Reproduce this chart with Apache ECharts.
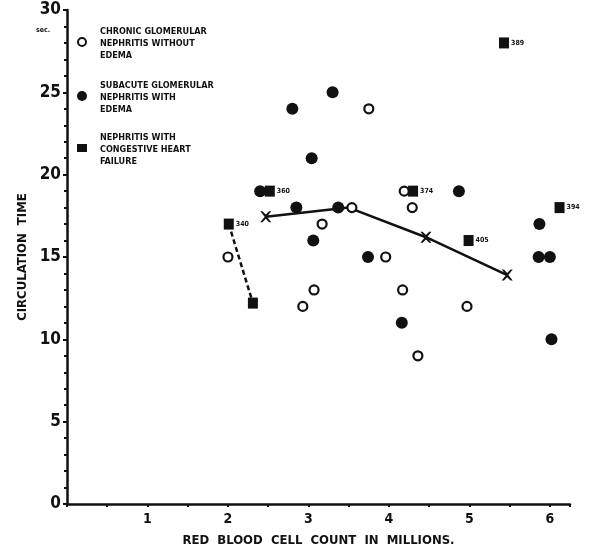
<!DOCTYPE html>
<html><head><meta charset="utf-8">
<script src="https://cdn.jsdelivr.net/npm/echarts@6/dist/echarts.min.js"></script>
<style>html,body{margin:0;padding:0;background:#fff}#c{width:590px;height:552px}</style>
</head><body><div id="c"></div>
<script>
var FONT = '"DejaVu Sans Condensed","DejaVu Sans",sans-serif';
var xTickLabels = ['1','2','3','4','5','6'];
var yTickLabels = ['0','5','10','15','20','25','30'];
var chronicX = [2.0, 2.93, 3.07, 3.17, 3.54, 3.75, 3.96, 4.17, 4.19, 4.29, 4.36, 4.97];
var chronicY = [15, 12, 13, 17, 18, 24, 15, 13, 19, 18, 9, 12];
var subacuteX = [2.4, 2.8, 2.85, 3.04, 3.06, 3.3, 3.37, 3.74, 4.16, 4.87, 5.87, 5.86, 6.0, 6.02];
var subacuteY = [19, 24, 18, 21, 16, 25, 18, 15, 11, 19, 17, 15, 15, 10];
var heartX = [2.01, 2.31, 2.52, 4.30, 4.99, 5.43, 6.12];
var heartY = [17, 12.2, 19, 19, 16, 28, 18];
var heartLabels = ['340', '', '360', '374', '405', '389', '394'];
var meanX = [2.47, 3.5, 4.46, 5.47];
var meanY = [17.45, 18, 16.2, 13.9];
var dashX = [2.01, 2.31];
var dashY = [17, 12.2];
var legendNames = ['CHRONIC GLOMERULAR\nNEPHRITIS WITHOUT\nEDEMA', 'SUBACUTE GLOMERULAR\nNEPHRITIS WITH\nEDEMA', 'NEPHRITIS WITH\nCONGESTIVE HEART\nFAILURE'];

function zip(xs, ys) { return xs.map(function (x, i) { return [x, ys[i]]; }); }
var CROSS = 'path://M0,0 L2,0 L5,3 L8,0 L10,0 L6,5 L10,10 L8,10 L5,7 L2,10 L0,10 L4,5 Z';

var chart = echarts.init(document.getElementById('c'));
var legendGraphics = [];
var legendY = [42, 96, 148];
legendNames.forEach(function (name, i) {
  var sym;
  if (i === 0) sym = {type: 'circle', shape: {cx: 82, cy: legendY[i], r: 4}, style: {fill: '#fff', stroke: '#111', lineWidth: 2}};
  else if (i === 1) sym = {type: 'circle', shape: {cx: 82, cy: legendY[i], r: 5}, style: {fill: '#111'}};
  else sym = {type: 'rect', shape: {x: 77, y: legendY[i] - 4, width: 10, height: 8}, style: {fill: '#111'}};
  legendGraphics.push(sym);
  legendGraphics.push({type: 'text', left: 100, top: legendY[i] - 16, style: {text: name, font: 'bold 9px ' + FONT, fill: '#111', lineHeight: 12, textAlign: 'left'}});
});
legendGraphics.push({type: 'text', left: 36, top: 27, style: {text: 'sec.', font: 'bold 7px ' + FONT, fill: '#111'}});

chart.setOption({
  backgroundColor: '#fff',
  animation: false,
  grid: {left: 67, right: 20, top: 10, bottom: 47},
  xAxis: {
    type: 'value', min: 0, max: 6.25, interval: 0.5,
    axisLine: {lineStyle: {color: '#111', width: 2.5}},
    axisTick: {show: true, length: 3, inside: false, lineStyle: {color: '#111', width: 2}},
    splitLine: {show: false},
    axisLabel: {color: '#111', fontFamily: FONT, fontWeight: 'bold', fontSize: 14, margin: 8,
      formatter: function (v) { var k = xTickLabels.indexOf(String(v)); return k >= 0 ? xTickLabels[k] : ''; }},
    name: 'RED  BLOOD  CELL  COUNT  IN  MILLIONS.', nameLocation: 'middle', nameGap: 30,
    nameTextStyle: {color: '#111', fontFamily: FONT, fontWeight: 'bold', fontSize: 13}
  },
  yAxis: {
    type: 'value', min: 0, max: 30, interval: 5,
    axisLine: {show: true, lineStyle: {color: '#111', width: 2.5}},
    axisTick: {show: true, length: 4, lineStyle: {color: '#111', width: 2}},
    minorTick: {show: true, splitNumber: 5, length: 3, lineStyle: {color: '#111', width: 2}},
    splitLine: {show: false},
    axisLabel: {color: '#111', fontFamily: FONT, fontWeight: 'bold', fontSize: 17, margin: 6,
      formatter: function (v) { var k = yTickLabels.indexOf(String(v)); return k >= 0 ? yTickLabels[k] : ''; }},
    name: 'CIRCULATION  TIME', nameLocation: 'middle', nameGap: 38,
    nameTextStyle: {color: '#111', fontFamily: FONT, fontWeight: 'bold', fontSize: 13}
  },
  graphic: legendGraphics,
  series: [
    {name: 'dash', type: 'line', data: zip(dashX, dashY), symbol: 'none', z: 1,
      lineStyle: {color: '#111', width: 2.5, type: [5, 3]}, silent: true},
    {name: 'mean', type: 'line', data: zip(meanX, meanY), symbol: function (v, p) { return p.dataIndex === 1 ? 'none' : CROSS; },
      symbolSize: 11, z: 1, itemStyle: {color: '#111', opacity: 1}, lineStyle: {color: '#111', width: 2.5}, silent: true},
    {name: legendNames[0], type: 'scatter', data: zip(chronicX, chronicY), symbol: 'circle', symbolSize: 9, z: 3,
      itemStyle: {color: '#fff', borderColor: '#111', borderWidth: 2.2, opacity: 1}},
    {name: legendNames[1], type: 'scatter', data: zip(subacuteX, subacuteY), symbol: 'circle', symbolSize: 12, z: 3,
      itemStyle: {color: '#111', opacity: 1}},
    {name: legendNames[2], type: 'scatter', z: 3,
      data: heartX.map(function (x, i) { return {value: [x, heartY[i]], label: {show: heartLabels[i] !== '', formatter: heartLabels[i]}}; }),
      symbol: 'rect', symbolSize: [10, 11], itemStyle: {color: '#111', opacity: 1},
      label: {position: 'right', distance: 2, color: '#111', fontFamily: FONT, fontWeight: 'bold', fontSize: 7}}
  ]
});
</script></body></html>
